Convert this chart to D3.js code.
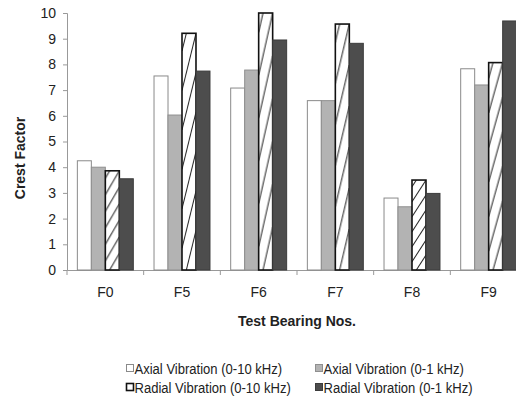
<!DOCTYPE html>
<html>
<head>
<meta charset="utf-8">
<script src="https://cdn.jsdelivr.net/npm/d3@7"></script>
<style>
  html, body { margin: 0; padding: 0; background: #fff; }
  svg { display: block; font-family: "Liberation Sans", Arial, sans-serif; }
</style>
</head>
<body>
<svg id="chart" width="516" height="401"></svg>
<script>
// Crest factor of each test bearing, per vibration channel
const categories = ["F0", "F5", "F6", "F7", "F8", "F9"];
const seriesNames = [
  "Axial Vibration (0-10 kHz)",
  "Axial Vibration (0-1 kHz)",
  "Radial Vibration (0-10 kHz)",
  "Radial Vibration (0-1 kHz)"
];
const axial10k  = [4.25, 7.55, 7.08, 6.59, 2.80, 7.83];
const axial1k   = [4.00, 6.03, 7.78, 6.59, 2.46, 7.20];
const radial10k = [3.86, 9.21, 10.0, 9.57, 3.50, 8.07];
const radial1k  = [3.55, 7.74, 8.95, 8.82, 2.98, 9.69];
const yTicks = [0, 1, 2, 3, 4, 5, 6, 7, 8, 9, 10];

const seriesValues = [axial10k, axial1k, radial10k, radial1k];

const svg = d3.select("#chart");
const margin = { left: 67, top: 13, right: -11, bottom: 131 };
const W = 516, H = 401;
const x0 = margin.left, x1 = W - margin.right;
const y0 = H - margin.bottom, y1 = margin.top;

const x = d3.scaleBand().domain(categories).range([x0, x1]).paddingInner(0).paddingOuter(0);
const xs = d3.scaleBand().domain(seriesNames).range([0, x.bandwidth()]).paddingInner(0).paddingOuter(0.74);
const y = d3.scaleLinear().domain([0, 10]).range([y0, y1]);

const defs = svg.append("defs");

const styles = [
  { fill: "#fff", stroke: "#8a8a8a", sw: 1 },
  { fill: "#b3b3b3", stroke: "#8f8f8f", sw: 1 },
  { fill: "#fff", stroke: "#111", sw: 1.6 },
  { fill: "#4d4d4d", stroke: "#3c3c3c", sw: 1 }
];

// Hatch for a radial 0-10 kHz bar: the diagonal pattern stretches with the bar,
// so each bar gets its own tile sized from its height (coordinates are local
// to the bar's category group).
function hatchFor(id, bx, by, bw, bh) {
  const period = bh / 6;
  const rise = period * 1.45;
  const p = defs.append("pattern")
    .attr("id", id)
    .attr("patternUnits", "userSpaceOnUse")
    .attr("x", bx).attr("y", by)
    .attr("width", bw).attr("height", period);
  p.append("rect").attr("width", bw).attr("height", period).attr("fill", "#fff");
  for (let k = -2; k <= 2; k++) {
    p.append("line")
      .attr("x1", 0).attr("y1", rise + k * period)
      .attr("x2", bw).attr("y2", k * period)
      .attr("stroke", "#222").attr("stroke-width", 1);
  }
  return `url(#${id})`;
}

// Axes
const yAxis = d3.axisLeft(y).tickValues(yTicks).tickSize(4).tickPadding(7).tickFormat(d3.format("d"));
const gy = svg.append("g").attr("transform", `translate(${x0},0)`).call(yAxis);
gy.select(".domain").attr("stroke", "#999");
gy.selectAll(".tick line").attr("stroke", "#999");
gy.selectAll(".tick text").attr("font-size", 14).attr("fill", "#222")
  .attr("font-family", "Liberation Sans, Arial, sans-serif");

const xAxis = d3.axisBottom(x).tickSize(0).tickPadding(17);
const gx = svg.append("g").attr("transform", `translate(0,${y0})`).call(xAxis);
gx.select(".domain").attr("stroke", "#999");
gx.selectAll(".tick text").attr("font-size", 14).attr("fill", "#222")
  .attr("font-family", "Liberation Sans, Arial, sans-serif");
// tick marks between categories
gx.selectAll("line.sep")
  .data(d3.range(categories.length + 1))
  .join("line")
  .attr("class", "sep")
  .attr("x1", i => x0 + i * x.step()).attr("x2", i => x0 + i * x.step())
  .attr("y1", 0).attr("y2", 5)
  .attr("stroke", "#999");

// Bars
const groups = svg.append("g").selectAll("g")
  .data(categories)
  .join("g")
  .attr("transform", d => `translate(${x(d)},0)`);

groups.selectAll("rect")
  .data((c, ci) => seriesNames.map((s, si) => ({ s, si, ci, v: seriesValues[si][ci] })))
  .join("rect")
  .attr("x", d => xs(d.s))
  .attr("width", xs.bandwidth())
  .attr("y", d => y(d.v))
  .attr("height", d => y(0) - y(d.v))
  .attr("fill", d => d.si === 2
    ? hatchFor("hatch" + d.ci, xs(d.s), y(d.v), xs.bandwidth(), y(0) - y(d.v))
    : styles[d.si].fill)
  .attr("stroke", d => styles[d.si].stroke)
  .attr("stroke-width", d => styles[d.si].sw);

// Axis titles
svg.append("text")
  .attr("x", (x0 + x1) / 2).attr("y", 326)
  .attr("text-anchor", "middle")
  .attr("font-size", 14).attr("font-weight", "bold").attr("fill", "#222")
  .text("Test Bearing Nos.");

svg.append("text")
  .attr("transform", "translate(25,158) rotate(-90)")
  .attr("text-anchor", "middle")
  .attr("font-size", 14).attr("font-weight", "bold").attr("fill", "#222")
  .text("Crest Factor");

// Legend
const legendPos = [
  { mx: 126, ty: 369 },
  { mx: 315, ty: 369 },
  { mx: 126, ty: 388 },
  { mx: 315, ty: 388 }
];
const lg = svg.append("g").selectAll("g")
  .data(seriesNames)
  .join("g")
  .attr("transform", (d, i) => `translate(${legendPos[i].mx},${legendPos[i].ty})`);
lg.append("rect")
  .attr("x", 0.5).attr("y", -4.5).attr("width", 7).attr("height", 7)
  .attr("fill", (d, i) => styles[i].fill)
  .attr("stroke", (d, i) => styles[i].stroke)
  .attr("stroke-width", (d, i) => i === 2 ? 1.6 : 1);
lg.append("text")
  .attr("transform", "translate(8.5,0) scale(0.9,1)")
  .attr("dy", "0.36em")
  .attr("font-size", 14.5).attr("fill", "#222")
  .text(d => d);
</script>
</body>
</html>
